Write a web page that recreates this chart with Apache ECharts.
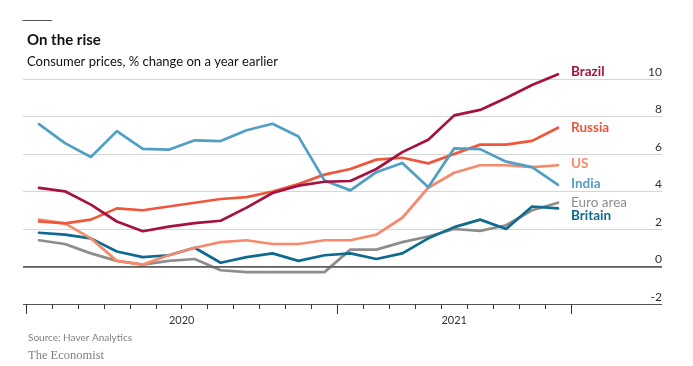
<!DOCTYPE html>
<html>
<head>
<meta charset="utf-8">
<script src="https://cdn.jsdelivr.net/npm/echarts@6/dist/echarts.min.js"></script>
<style>
html,body{margin:0;padding:0;background:#fff;}
#chart{width:693px;height:366px;}
</style>
</head>
<body>
<div id="chart"></div>
<script>
// ---- data ----
var months = ['Jan 2020','Feb 2020','Mar 2020','Apr 2020','May 2020','Jun 2020','Jul 2020','Aug 2020','Sep 2020','Oct 2020','Nov 2020','Dec 2020',
              'Jan 2021','Feb 2021','Mar 2021','Apr 2021','May 2021','Jun 2021','Jul 2021','Aug 2021','Sep 2021'];
var brazil  = [4.19, 4.01, 3.30, 2.40, 1.88, 2.13, 2.31, 2.44, 3.14, 3.92, 4.31, 4.52, 4.56, 5.20, 6.10, 6.76, 8.06, 8.35, 8.99, 9.68, 10.25];
var russia  = [2.4, 2.3, 2.5, 3.1, 3.0, 3.2, 3.4, 3.6, 3.7, 4.0, 4.4, 4.9, 5.2, 5.7, 5.8, 5.5, 6.0, 6.5, 6.5, 6.7, 7.4];
var us      = [2.5, 2.3, 1.5, 0.3, 0.1, 0.6, 1.0, 1.3, 1.4, 1.2, 1.2, 1.4, 1.4, 1.7, 2.6, 4.2, 5.0, 5.4, 5.4, 5.3, 5.4];
var india   = [7.59, 6.58, 5.84, 7.22, 6.27, 6.23, 6.73, 6.69, 7.27, 7.61, 6.93, 4.59, 4.06, 5.03, 5.52, 4.23, 6.30, 6.26, 5.59, 5.30, 4.35];
var euroArea= [1.4, 1.2, 0.7, 0.3, 0.1, 0.3, 0.4, -0.2, -0.3, -0.3, -0.3, -0.3, 0.9, 0.9, 1.3, 1.6, 2.0, 1.9, 2.2, 3.0, 3.4];
var britain = [1.8, 1.7, 1.5, 0.8, 0.5, 0.6, 1.0, 0.2, 0.5, 0.7, 0.3, 0.6, 0.7, 0.4, 0.7, 1.5, 2.1, 2.5, 2.0, 3.2, 3.1];
var yearLabels = ['2020', '2021'];
var yearStartIndex = [0, 12];   // month index where each year starts
var yMin = -2, yMax = 10, yStep = 2;

// ---- styles ----
var SANS = "Lato, sans-serif";
var seriesDefs = [
  {name:'Euro area', data:euroArea, color:'#8d8d8b', bold:false, offset:[0,0]},
  {name:'Britain',   data:britain,  color:'#0e6a8e', bold:true,  offset:[0,7]},
  {name:'US',        data:us,       color:'#f68a6c', bold:true,  offset:[0,-1.5]},
  {name:'Russia',    data:russia,   color:'#f0563b', bold:true,  offset:[0,-0.5]},
  {name:'India',     data:india,    color:'#519fc4', bold:true,  offset:[0,-1]},
  {name:'Brazil',    data:brazil,   color:'#a5123f', bold:true,  offset:[0,-3]}
];

// half-month category axis for centred year labels
var halfLabels = [];
for (var h = 0; h <= months.length * 2; h++) halfLabels.push('');
for (var k = 0; k < yearLabels.length; k++) {
  var s = yearStartIndex[k], e = (k + 1 < yearStartIndex.length) ? yearStartIndex[k + 1] : months.length;
  halfLabels[s + e] = yearLabels[k];
}

var splitColors = [];
for (var v = yMin; v <= yMax; v += yStep) splitColors.push(v === yMin ? '#555' : (v === 0 ? '#666' : '#d6d6d6'));

var chart = echarts.init(document.getElementById('chart'), null, {renderer:'canvas'});
var series = seriesDefs.map(function (d) {
  return {
    name: d.name, type: 'line', xAxisIndex: 1, yAxisIndex: 1,
    data: d.data, symbol: 'none', smooth: false, clip: false,
    lineStyle: {color: d.color, width: 2.7, join: 'round', cap: 'round'},
    itemStyle: {color: d.color},
    emphasis: {disabled: true},
    endLabel: {
      show: true, formatter: '{a}', distance: 13, offset: d.offset,
      color: d.color, fontFamily: SANS, fontSize: 13.5,
      fontWeight: d.bold ? 'bold' : 'normal'
    },
    z: 3
  };
});
// zero line
series.push({
  type: 'line', xAxisIndex: 0, yAxisIndex: 0, data: [], silent: true,
  markLine: {symbol: 'none', silent: true, label: {show: false},
    lineStyle: {color: '#5a5a5a', width: 1.6, type: 'solid'},
    emphasis: {disabled: true}, animation: false,
    data: [{yAxis: 0}]}
});

chart.setOption({
  animation: false,
  backgroundColor: '#fff',
  title: [
    {text: 'On the rise', left: 22, top: 28, textStyle: {fontFamily: SANS, fontSize: 15, fontWeight: 'bold', color: '#121212'}},
    {text: 'Consumer prices, % change on a year earlier', left: 22, top: 50, textStyle: {fontFamily: SANS, fontSize: 13, fontWeight: 'normal', color: '#121212'}},
    {text: 'Source: Haver Analytics', left: 23, top: 328, textStyle: {fontFamily: SANS, fontSize: 10, fontWeight: 'normal', color: '#808080'}},
    {text: 'The Economist', left: 23, top: 344, textStyle: {fontFamily: "'Liberation Serif', 'DejaVu Serif', serif", fontSize: 12.5, fontWeight: 'normal', color: '#808080'}}
  ],
  graphic: [
    {type: 'line', shape: {x1: 22.5, y1: 20.5, x2: 52, y2: 20.5}, style: {stroke: '#555', lineWidth: 1}}
  ],
  grid: [
    {left: 23, right: 31, top: 79, bottom: 62},
    {left: 26, right: 122, top: 79, bottom: 62}
  ],
  xAxis: [
    {gridIndex: 0, type: 'value', min: 0, max: 1, show: false},
    {gridIndex: 1, type: 'category', data: months, position: 'bottom', boundaryGap: true,
      axisLine: {show: false, onZero: false},
      axisTick: {show: true, length: 5, interval: 0, lineStyle: {color: '#333', width: 1}},
      axisLabel: {show: false}, splitLine: {show: false}},
    {gridIndex: 1, type: 'category', data: months, position: 'bottom', boundaryGap: true,
      axisLine: {show: false, onZero: false},
      axisTick: {show: true, length: 10, lineStyle: {color: '#333', width: 1},
        interval: function (i) { return yearStartIndex.indexOf(i) >= 0; }},
      axisLabel: {show: false}, splitLine: {show: false}},
    {gridIndex: 1, type: 'category', data: halfLabels, position: 'bottom', boundaryGap: false,
      axisLine: {show: false, onZero: false}, axisTick: {show: false},
      axisLabel: {show: true, interval: 0, margin: 11, fontFamily: SANS, fontSize: 11, color: '#333'},
      splitLine: {show: false}}
  ],
  yAxis: [
    {gridIndex: 0, type: 'value', min: yMin, max: yMax, interval: yStep, position: 'right',
      axisLine: {show: false}, axisTick: {show: false},
      axisLabel: {inside: true, margin: 0, verticalAlign: 'bottom', align: 'right', padding: [0, 0, 1, 0],
        fontFamily: SANS, fontSize: 12, color: '#333'},
      splitLine: {show: true, lineStyle: {color: splitColors, width: 1}}},
    {gridIndex: 1, type: 'value', min: yMin, max: yMax, interval: yStep, show: false,
      splitLine: {show: false}}
  ],
  series: series
});
</script>
</body>
</html>
